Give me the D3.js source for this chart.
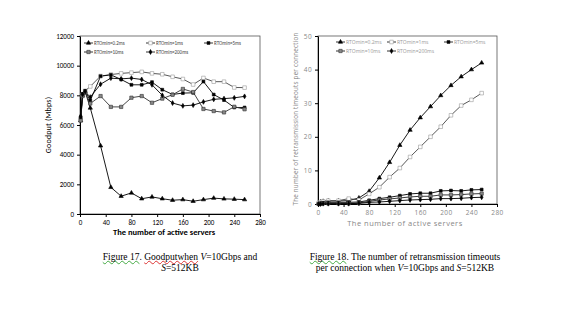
<!DOCTYPE html>
<html><head><meta charset="utf-8">
<script src="https://cdn.jsdelivr.net/npm/d3@7"></script>
<style>
html,body{margin:0;padding:0;background:#fff;}
#wrap{position:relative;width:561px;height:323px;overflow:hidden;}
.cap{position:absolute;font-family:"Liberation Serif","Times New Roman",serif;font-size:9.5px;color:#000;text-align:center;white-space:nowrap;line-height:11px;}
.sqg{text-decoration:underline wavy #4a4;text-decoration-thickness:0.5px;text-underline-offset:0px;text-decoration-skip-ink:none;}
.sqr{text-decoration:underline wavy #d33;text-decoration-thickness:0.5px;text-underline-offset:0px;text-decoration-skip-ink:none;}
</style></head>
<body><div id="wrap"><svg id="svg" width="561" height="323"></svg>
<div class="cap" style="left:80px;top:252px;width:200px;"><span class="sqg">Figure 17</span>. <span class="sqr">Goodputwhen</span> <i>V</i>=10Gbps and<br><i>S</i>=512KB</div>
<div class="cap" style="left:285px;top:252px;width:240px;"><span class="sqg">Figure 18</span>. The number of retransmission timeouts<br>per connection when <i>V</i>=10Gbps and <i>S</i>=512KB</div>
</div>
<script>
const servers = [1, 4, 8, 16, 32, 48, 64, 80, 96, 112, 128, 144, 160, 176, 192, 208, 224, 240, 256];
const seriesNames = ["RTOmin=0.2ms", "RTOmin=1ms", "RTOmin=5ms", "RTOmin=10ms", "RTOmin=200ms"];
// Figure 17: goodput (Mbps)
const goodput02 = [6300, 8000, 8250, 7150, 4600, 1800, 1200, 1420, 1030, 1150, 1030, 930, 970, 860, 970, 1070, 1020, 1000, 970];
const goodput1 = [6400, 8050, 8300, 8600, 9300, 9400, 9480, 9530, 9580, 9480, 9420, 9250, 9100, 8730, 9170, 8920, 8920, 8530, 8520];
const goodput5 = [6500, 8100, 8300, 7650, 9290, 9380, 9070, 8710, 8710, 8890, 8380, 8060, 8150, 8170, 8930, 8050, 7680, 7180, 7180];
const goodput10 = [6300, 7950, 8200, 7450, 7950, 7220, 7220, 7840, 7950, 7500, 7780, 8040, 8430, 8220, 7080, 6940, 6850, 7230, 7060];
const goodput200 = [6600, 8050, 8250, 7880, 8750, 9160, 9110, 9160, 9070, 8710, 8000, 7480, 7290, 7340, 7560, 7730, 7780, 7830, 7930];
// Figure 18: retransmission timeouts per connection
const rto02 = [0.2, 0.6, 0.8, 0.9, 0.9, 1.0, 1.8, 3.8, 7.8, 12.4, 17.5, 22.0, 25.7, 29.0, 32.3, 35.3, 37.9, 40.0, 42.0];
const rto1 = [0.3, 0.6, 0.8, 1.0, 1.0, 1.6, 1.2, 3.0, 5.0, 8.0, 10.7, 14.0, 17.0, 20.0, 23.0, 26.4, 29.3, 31.0, 33.0];
const rto5 = [0.0, 0.2, 0.4, 0.5, 0.5, 0.5, 0.6, 1.1, 1.6, 2.0, 2.5, 3.0, 3.2, 3.2, 3.9, 4.0, 3.9, 4.2, 4.3];
const rto10 = [0.0, 0.1, 0.2, 0.2, 0.2, 0.2, 0.3, 0.8, 1.2, 1.5, 1.8, 2.1, 2.3, 2.3, 2.7, 2.7, 2.8, 3.0, 3.1];
const rto200 = [0.0, 0.0, 0.1, 0.1, 0.1, 0.1, 0.2, 0.5, 0.6, 0.8, 1.0, 1.2, 1.3, 1.4, 1.6, 1.6, 1.7, 1.9, 2.0];
const xTicks = [0, 40, 80, 120, 160, 200, 240, 280];
const gpTicks = [0, 2000, 4000, 6000, 8000, 10000, 12000];
const rtoTicks = [0, 10, 20, 30, 40, 50];

const markerStyles = [
  {type: d3.symbolTriangle, size: 8, fill: "#000", stroke: "#000"},
  {type: d3.symbolSquare, size: 13, fill: "#fff", stroke: "#999"},
  {type: d3.symbolSquare, size: 8, fill: "#000", stroke: "#000"},
  {type: d3.symbolSquare, size: 11, fill: "#888", stroke: "#333"},
  {type: d3.symbolDiamond, size: 7, fill: "#000", stroke: "#000"}
];

const svg = d3.select("#svg");
svg.append("rect").attr("width", 561).attr("height", 323).attr("fill", "#fff");

function drawChart(opt) {
  const g = svg.append("g");
  const x = d3.scaleLinear().domain([0, 280]).range([opt.x0, opt.x1]);
  const y = d3.scaleLinear().domain([0, opt.ymax]).range([opt.y0, opt.y1]);
  g.append("rect").attr("x", opt.x0).attr("y", opt.y1).attr("width", opt.x1 - opt.x0).attr("height", opt.y0 - opt.y1)
    .attr("fill", "none").attr("stroke", "#555").attr("stroke-width", 0.8);
  const xa = g.append("g").attr("transform", `translate(0,${opt.y0})`)
    .call(d3.axisBottom(x).tickValues(xTicks).tickFormat(d3.format("d")).tickSize(3).tickSizeOuter(0).tickPadding(opt.xPad));
  const ya = g.append("g").attr("transform", `translate(${opt.x0},0)`)
    .call(d3.axisLeft(y).tickValues(opt.yTicks).tickFormat(d3.format("d")).tickSize(3).tickSizeOuter(0).tickPadding(3));
  [xa, ya].forEach(a => {
    a.select(".domain").attr("stroke", "#000").attr("stroke-width", 1);
    a.selectAll(".tick line").attr("stroke", "#000");
    a.selectAll("text").attr("font-family", opt.font).attr("font-size", opt.tickSize)
      .attr("fill", opt.textColor).attr("letter-spacing", opt.tickLS);
  });
  g.append("text").attr("x", opt.xtX).attr("y", opt.y0 + opt.xtDy)
    .attr("text-anchor", "middle").attr("font-family", opt.font).attr("font-size", opt.titleSize)
    .attr("font-weight", opt.xtWeight).attr("fill", opt.textColor).attr("letter-spacing", opt.titleLS)
    .text("The number of active servers");
  g.append("text").attr("transform", `translate(${opt.ytX},${opt.ytY}) rotate(-90)`)
    .attr("text-anchor", "middle").attr("font-family", opt.font).attr("font-size", opt.ytSize)
    .attr("fill", opt.textColor).attr("letter-spacing", opt.ytLS).text(opt.yTitle);
  const line = d3.line().x((d, i) => x(servers[i])).y(d => y(d));
  opt.series.forEach((s, k) => {
    g.append("path").datum(s).attr("d", line).attr("fill", "none")
      .attr("stroke", opt.lineColors[k]).attr("stroke-width", 0.9);
  });
  opt.series.forEach((s, k) => {
    const m = markerStyles[k];
    g.append("g").selectAll("path").data(s).join("path")
      .attr("transform", (d, i) => `translate(${x(servers[i])},${y(d)})`)
      .attr("d", d3.symbol().type(m.type).size(m.size))
      .attr("fill", m.fill).attr("stroke", m.stroke).attr("stroke-width", 0.6);
  });
  opt.legendPos.forEach((p, k) => {
    const m = markerStyles[k];
    const lg = g.append("g").attr("transform", `translate(${p[0]},${p[1]})`);
    lg.append("line").attr("x1", 0).attr("x2", 9).attr("y1", 0).attr("y2", 0).attr("stroke", "#000").attr("stroke-width", 0.8);
    lg.append("path").attr("transform", "translate(4.5,0)").attr("d", d3.symbol().type(m.type).size(m.size))
      .attr("fill", m.fill).attr("stroke", m.stroke).attr("stroke-width", 0.6);
    lg.append("text").attr("x", 10).attr("y", 1.8).attr("font-family", opt.font).attr("font-size", 5)
      .attr("fill", opt.legendColor).text(seriesNames[k]);
  });
}

drawChart({
  x0: 80, x1: 260, y0: 214, y1: 36, ymax: 12000, yTicks: gpTicks,
  font: "Carlito, 'Liberation Sans', 'DejaVu Sans', sans-serif", tickSize: 7, tickLS: 0, xPad: 3,
  titleSize: 8.5, titleLS: 0, ytSize: 8, ytLS: 0.2,
  textColor: "#000", legendColor: "#444", xtWeight: "bold", xtX: 164, xtDy: 21,
  ytX: 51, ytY: 125, yTitle: "Goodput (Mbps)",
  series: [goodput02, goodput1, goodput5, goodput10, goodput200],
  lineColors: ["#000", "#444", "#000", "#333", "#000"],
  legendPos: [[84, 43], [146, 43], [204, 43], [84, 52], [146, 52]]
});
drawChart({
  x0: 318, x1: 497, y0: 204, y1: 36, ymax: 50, yTicks: rtoTicks,
  font: "'Open Sans', 'DejaVu Sans', sans-serif", tickSize: 6.5, tickLS: 0.4, xPad: 3,
  titleSize: 7.5, titleLS: 0.5, ytSize: 6.3, ytLS: 0.2,
  textColor: "#888", legendColor: "#999", xtWeight: "normal", xtX: 405, xtDy: 22,
  ytX: 298, ytY: 119, yTitle: "The number of retransmission timeouts per connection",
  series: [rto02, rto1, rto5, rto10, rto200],
  lineColors: ["#000", "#444", "#000", "#222", "#000"],
  legendPos: [[336, 42], [387, 42], [444, 42], [336, 51], [387, 51]]
});
</script></body></html>
